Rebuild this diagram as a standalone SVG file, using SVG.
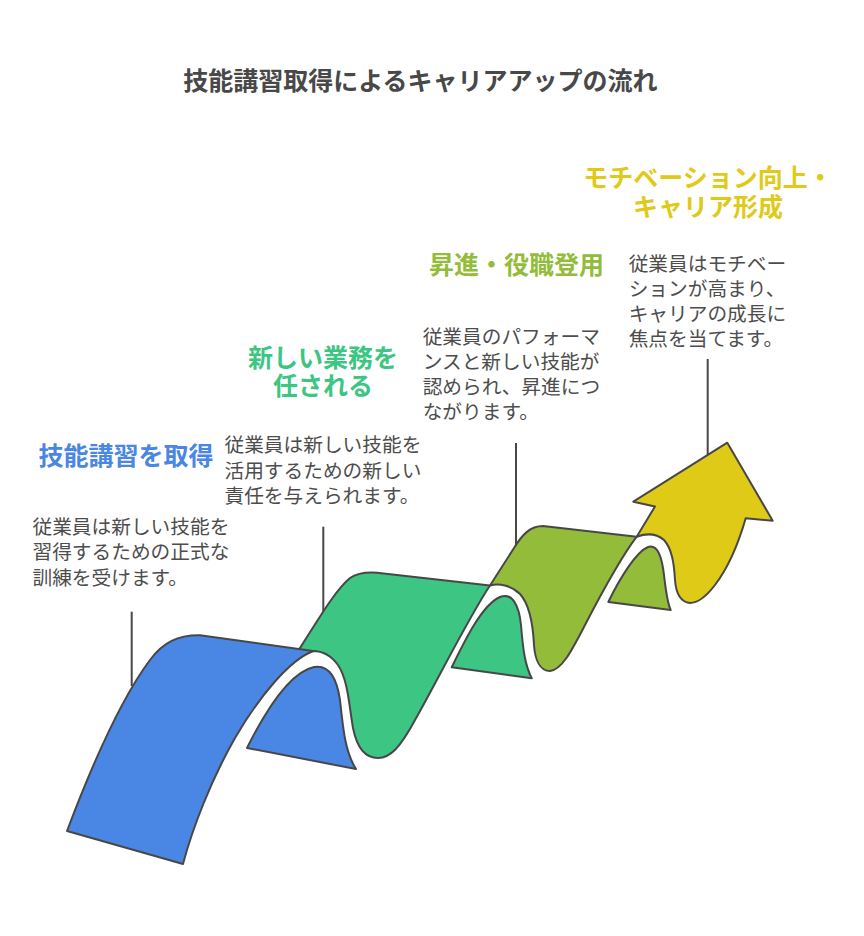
<svg xmlns="http://www.w3.org/2000/svg" width="864" height="936" viewBox="0 0 864 936">
<style>
.bg{fill:#ffffff}
.sh{stroke:#474747;stroke-width:2;stroke-linejoin:round;stroke-linecap:round}
.blue{fill:#4a86e3}
.green{fill:#3dc584}
.olive{fill:#93bc3a}
.yellow{fill:#dfca18}
.conn{stroke:#474747;stroke-width:2;fill:none}
.title{font-family:"Liberation Sans","Noto Sans CJK JP",sans-serif;font-size:25px;font-weight:700;fill:#484848}
.lbl{font-family:"Liberation Sans","Noto Sans CJK JP",sans-serif;font-size:25px;font-weight:700}
.desc{font-family:"Liberation Sans","Noto Sans CJK JP",sans-serif;font-size:19.7px;fill:#4d4d4d}
.tb{fill:#4a86e3}.tg{fill:#3dc584}.to{fill:#93bc3a}.ty{fill:#dfca18}
</style>
<rect class="bg" x="0" y="0" width="864" height="936"/>
<text class="title" x="420.5" y="89.5" text-anchor="middle">技能講習取得によるキャリアアップの流れ</text>

<g id="connectors">
<line class="conn" x1="131.7" y1="611.7" x2="131.7" y2="686"/>
<line class="conn" x1="323.3" y1="526.7" x2="323.3" y2="613"/>
<line class="conn" x1="516" y1="443" x2="516" y2="546"/>
<line class="conn" x1="707.7" y1="359" x2="707.7" y2="456"/>
</g>

<g id="node-yellow">
<path class="sh yellow" d="M636.7,536.7 L655,506.5 L633.3,501.7 L727.3,442.7 L772.7,520.7 L745.7,518.3 C738,545 728,568 715,585 C705,598 697,603 690,603 C681,602 676,594 675,580 C674,563 672,549 664,540 C657,534 647,533 636.7,536.7 Z"/>
<text class="lbl ty" text-anchor="middle"><tspan x="708" y="186.5">モチベーション向上・</tspan><tspan x="708" y="216">キャリア形成</tspan></text>
<text class="desc"><tspan x="628.7" y="271.3">従業員はモチベー</tspan><tspan x="628.7" y="296.3">ションが高まり、</tspan><tspan x="628.7" y="321.3">キャリアの成長に</tspan><tspan x="628.7" y="346.3">焦点を当てます。</tspan></text>
</g>

<g id="node-olive">
<path class="sh olive" d="M608.3,602 C620,578 636,552 648,547 C658,544 662,558 664,575 C666,592 667,602 670.7,610 Z"/>
<path class="sh olive" d="M470,598 L490,585.5 L514,548 C522,535 530,526 543,526 L636.7,536.7 C622,556 598,600 585,625 C572,650 562,670 550,671 C540,671 535,660 534,645 C533,625 530,605 520,594 C512,586 500,583 490,585.5 L470,598 Z"/>
<text class="lbl to" x="429" y="273.5">昇進・役職登用</text>
<text class="desc"><tspan x="422.7" y="343.6">従業員のパフォーマ</tspan><tspan x="422.7" y="368.6">ンスと新しい技能が</tspan><tspan x="422.7" y="393.6">認められ、昇進につ</tspan><tspan x="422.7" y="418.6">ながります。</tspan></text>
</g>

<g id="node-green">
<path class="sh green" d="M451.7,667.3 C465,640 482,605 500,597 C512,592 519,605 521,625 C523,650 525,665 531.7,678.3 Z"/>
<path class="sh green" d="M285,662 L300,648 C315,625 335,590 350,578 C357,573 365,572 377,572.7 L490,585.5 C470,615 435,685 415,720 C400,748 390,758 378,758 C366,758 357,748 353,728 C349,705 348,680 338,665 C330,654 320,651 313,651 L285,662 Z"/>
<text class="lbl tg" text-anchor="middle"><tspan x="323" y="366.5">新しい業務を</tspan><tspan x="323" y="395">任される</tspan></text>
<text class="desc"><tspan x="224.5" y="452">従業員は新しい技能を</tspan><tspan x="224.5" y="477.5">活用するための新しい</tspan><tspan x="224.5" y="503">責任を与えられます。</tspan></text>
</g>

<g id="node-blue">
<path class="sh blue" d="M247,748 C265,712 290,672 314,667 C330,664 337,680 340,700 C343,728 345,752 356,769 Z"/>
<path class="sh blue" d="M67,831 C90,770 120,700 150,660 C163,642 178,635 200,635.3 L313,651 C290,660 260,695 235,738 C210,782 192,830 183,864 Z"/>
<text class="lbl tb" x="38.5" y="465">技能講習を取得</text>
<text class="desc"><tspan x="32.5" y="533.5">従業員は新しい技能を</tspan><tspan x="32.5" y="559">習得するための正式な</tspan><tspan x="32.5" y="584.5">訓練を受けます。</tspan></text>
</g>
</svg>
